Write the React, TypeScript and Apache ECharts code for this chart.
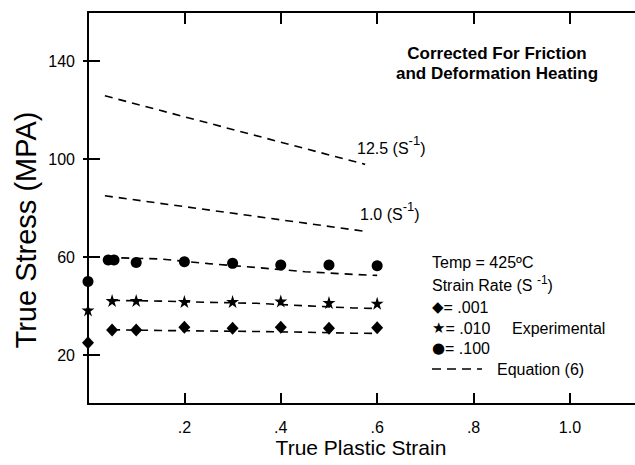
import React, { useEffect, useRef } from 'react';
import * as echarts from 'echarts';

// ---- Data ----
const xTickValues = [0.2, 0.4, 0.6, 0.8, 1.0];
const yTickValues = [20, 60, 100, 140];

const diamondX = [0, 0.05, 0.1, 0.2, 0.3, 0.4, 0.5, 0.6];
const diamondY = [25, 30.2, 30.2, 31.3, 30.9, 31.3, 30.9, 31.1];

const starX = [0, 0.05, 0.1, 0.2, 0.3, 0.4, 0.5, 0.6];
const starY = [38.4, 42.2, 42.2, 41.8, 41.8, 42, 41.4, 41.1];

const circleX = [0, 0.042, 0.054, 0.1, 0.2, 0.3, 0.4, 0.5, 0.6];
const circleY = [50, 58.8, 58.8, 57.8, 58.1, 57.4, 56.7, 56.7, 56.4];

const eq001X = [0.05, 0.15, 0.25, 0.35, 0.45, 0.55, 0.6];
const eq001Y = [30.3, 30, 29.8, 29.6, 29.3, 28.9, 28.8];

const eq010X = [0.05, 0.15, 0.25, 0.35, 0.45, 0.55, 0.6];
const eq010Y = [42.3, 42, 41.5, 41.1, 40.1, 39.2, 39];

const eq100X = [0.04, 0.15, 0.25, 0.35, 0.45, 0.55, 0.6];
const eq100Y = [59.8, 59.2, 57.3, 55.7, 54, 52.9, 52.5];

const eq1X = [0.035, 0.57];
const eq1Y = [85, 70.6];

const eq125X = [0.035, 0.575];
const eq125Y = [125.8, 97.8];

const zip = (xs: number[], ys: number[]) => xs.map((x, i) => [x, ys[i]]);

const INK = '#000';
const FONT = '"Liberation Sans", Arial, Helvetica, sans-serif';
const STAR = 'path://M50,0L61.2,34.5L97.6,34.5L68.2,55.9L79.4,90.5L50,69.1L20.6,90.5L31.8,55.9L2.4,34.5L38.8,34.5Z';

const richStyles = {
  supHi: { fontSize: 13, fontFamily: FONT, fill: INK, verticalAlign: 'top', lineHeight: 10 },
  supLo: { fontSize: 12, fontFamily: FONT, fill: INK, verticalAlign: 'top', lineHeight: 12 },
  sym: { fontSize: 15, fontFamily: '"DejaVu Sans", sans-serif', fill: INK, lineHeight: 20 },
};

function txt(x: number, y: number, text: string, opts: any = {}) {
  return {
    type: 'text',
    x,
    y,
    rotation: opts.rotation || 0,
    style: {
      text,
      fill: INK,
      fontFamily: FONT,
      fontSize: opts.fontSize || 16,
      fontWeight: opts.fontWeight || 'normal',
      textAlign: opts.align || 'left',
      textVerticalAlign: 'middle',
      lineHeight: opts.lineHeight || 20,
      rich: richStyles,
    },
  };
}

export default function App() {
  const ref = useRef<HTMLDivElement>(null);

  useEffect(() => {
    document.body.style.margin = '0';
    if (!ref.current) return;
    const chart = echarts.init(ref.current, undefined, { renderer: 'svg' });

    const dashed = { color: INK, width: 1.6, type: [8, 6] as any };
    const lineSeries = (data: number[][]) => ({
      type: 'line',
      data,
      symbol: 'none',
      lineStyle: dashed,
      clip: false,
      silent: true,
    });

    const commonX = {
      type: 'value',
      min: 0,
      max: 1.135,
      splitLine: { show: false },
      axisLine: { show: true, onZero: false, lineStyle: { color: INK, width: 2 } },
    };
    const commonY = {
      type: 'value',
      min: 0,
      max: 160,
      splitLine: { show: false },
      axisLine: { show: true, onZero: false, lineStyle: { color: INK, width: 2 } },
    };

    const scatterStyle = { color: INK, opacity: 1 };

    chart.setOption({
      animation: false,
      backgroundColor: '#fff',
      grid: { left: 88, top: 12, right: 0, bottom: 61, outerBoundsMode: 'none' },
      xAxis: [
        {
          ...commonX,
          position: 'bottom',
          axisTick: { show: true, inside: true, length: 11, customValues: xTickValues, lineStyle: { color: INK, width: 2 } },
          axisLabel: {
            show: true,
            customValues: xTickValues,
            margin: 15,
            color: INK,
            fontSize: 16,
            fontFamily: FONT,
            formatter: (v: number) => (v === 1 ? '1.0' : String(v).replace(/^0\./, '.')),
          },
        },
        {
          ...commonX,
          position: 'top',
          axisTick: { show: true, inside: true, length: 12, customValues: xTickValues, lineStyle: { color: INK, width: 2 } },
          axisLabel: { show: false },
        },
      ],
      yAxis: [
        {
          ...commonY,
          position: 'left',
          axisTick: { show: true, inside: true, length: 12, customValues: yTickValues, lineStyle: { color: INK, width: 2 } },
          axisLabel: {
            show: true,
            customValues: yTickValues,
            margin: 13,
            color: INK,
            fontSize: 16,
            fontFamily: FONT,
          },
        },
        {
          ...commonY,
          position: 'right',
          axisLine: { show: false },
          axisTick: { show: true, inside: true, length: 5, customValues: yTickValues, lineStyle: { color: INK, width: 2 } },
          axisLabel: { show: false },
        },
      ],
      series: [
        lineSeries(zip(eq125X, eq125Y)),
        lineSeries(zip(eq1X, eq1Y)),
        lineSeries(zip(eq100X, eq100Y)),
        lineSeries(zip(eq010X, eq010Y)),
        lineSeries(zip(eq001X, eq001Y)),
        {
          type: 'scatter',
          data: zip(diamondX, diamondY),
          symbol: 'diamond',
          symbolSize: [12, 13],
          itemStyle: scatterStyle,
          clip: false,
        },
        {
          type: 'scatter',
          data: zip(starX, starY),
          symbol: STAR,
          symbolSize: 13,
          itemStyle: scatterStyle,
          clip: false,
        },
        {
          type: 'scatter',
          data: zip(circleX, circleY),
          symbol: 'circle',
          symbolSize: 11,
          itemStyle: scatterStyle,
          clip: false,
        },
      ],
      graphic: [
        txt(497, 53, 'Corrected For Friction', { align: 'center', fontWeight: 'bold', fontSize: 17 }),
        txt(497, 73, 'and Deformation Heating', { align: 'center', fontWeight: 'bold', fontSize: 17 }),
        txt(357, 148, '12.5 (S{supHi|-1})', { lineHeight: 28 }),
        txt(360, 214, '1.0 (S{supHi|-1})', { lineHeight: 28 }),
        txt(432, 262, 'Temp = 425ºC'),
        txt(432, 285, 'Strain Rate (S {supLo|-1})', { lineHeight: 22 }),
        txt(432, 307, '{sym|◆}= .001'),
        txt(432, 328, '{sym|★}= .010'),
        txt(512, 328, 'Experimental'),
        txt(432, 348, '{sym|●}= .100'),
        txt(497, 369, 'Equation (6)'),
        {
          type: 'line',
          shape: { x1: 432, y1: 369, x2: 482, y2: 369 },
          style: { stroke: INK, lineWidth: 1.6, lineDash: [9, 6] },
        },
        txt(361, 447, 'True Plastic Strain', { align: 'center', fontSize: 21 }),
        txt(26, 230, 'True Stress (MPA)', { align: 'center', fontSize: 29, rotation: Math.PI / 2 }),
      ],
    });

    return () => chart.dispose();
  }, []);

  return <div ref={ref} style={{ width: 635, height: 465 }} />;
}
